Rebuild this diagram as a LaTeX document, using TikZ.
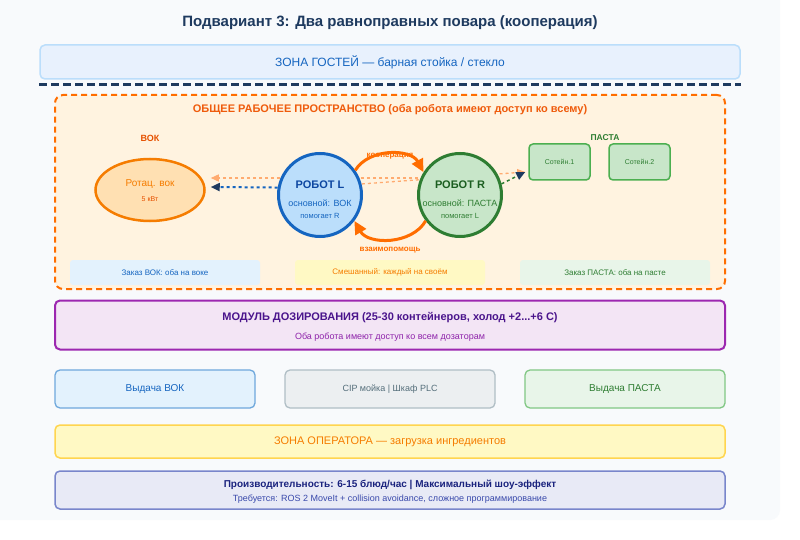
\documentclass[tikz,border=0pt]{standalone}
\usepackage{fontspec}
\setmainfont{Liberation Sans}
\usetikzlibrary{shapes.geometric,arrows.meta,calc}
\definecolor{cardbg}{HTML}{F8FAFC}
\definecolor{navy}{HTML}{1E3A5F}
\definecolor{guestbg}{HTML}{E8F1FD}
\definecolor{guestln}{HTML}{BBDEFB}
\definecolor{blueT}{HTML}{1565C0}
\definecolor{wsbg}{HTML}{FFF3E0}
\definecolor{wsln}{HTML}{FF6D00}
\definecolor{wsT}{HTML}{EF5B0C}
\definecolor{wokT}{HTML}{E65100}
\definecolor{wokfill}{HTML}{FFE0B2}
\definecolor{wokln}{HTML}{F57C00}
\definecolor{blueFill}{HTML}{BBDEFB}
\definecolor{blueLn}{HTML}{1565C0}
\definecolor{blueDk}{HTML}{0D47A1}
\definecolor{grnFill}{HTML}{C8E6C9}
\definecolor{grnLn}{HTML}{2E7D32}
\definecolor{grnDk}{HTML}{1B5E20}
\definecolor{sotln}{HTML}{4CAF50}
\definecolor{helpc}{HTML}{FFAB70}
\definecolor{arcc}{HTML}{FF6D00}
\definecolor{stripB}{HTML}{E3F2FD}
\definecolor{stripY}{HTML}{FFF9C4}
\definecolor{stripG}{HTML}{E8F5E9}
\definecolor{doseFill}{HTML}{F3E5F5}
\definecolor{doseLn}{HTML}{9C27B0}
\definecolor{doseDk}{HTML}{4A148C}
\definecolor{doseT}{HTML}{8E24AA}
\definecolor{outBln}{HTML}{6FA8DC}
\definecolor{cipFill}{HTML}{ECEFF1}
\definecolor{cipLn}{HTML}{B0BEC5}
\definecolor{cipT}{HTML}{546E7A}
\definecolor{outGln}{HTML}{81C784}
\definecolor{opLn}{HTML}{FFD54F}
\definecolor{opT}{HTML}{F57C00}
\definecolor{perfFill}{HTML}{E8EAF6}
\definecolor{perfLn}{HTML}{7986CB}
\definecolor{perfDk}{HTML}{1A237E}
\definecolor{perfT}{HTML}{3949AB}
\begin{document}
\begin{tikzpicture}[x=1pt,y=-1pt, every node/.style={inner sep=0pt,font=\fontsize{9}{11}\selectfont},
  zone/.style={draw,rounded corners=5pt,line width=1.5pt,minimum width=670pt},
  strip/.style={rounded corners=3pt,minimum width=190pt,minimum height=25pt,font=\fontsize{8}{9}\selectfont},
  robot/.style={circle,line width=3pt,minimum size=83pt},
  pan/.style={draw=sotln,fill=grnFill,rounded corners=4pt,line width=1.5pt,minimum width=61pt,minimum height=36pt,text=grnLn,font=\fontsize{7}{8}\selectfont},
  outbox/.style={draw,rounded corners=5pt,line width=1.3pt,minimum width=200pt,minimum height=38pt},
  helpar/.style={dashed,line width=1.3pt,helpc,-{Triangle[length=8pt,width=7pt]}},
  mainar/.style={dashed,line width=2pt,-{Triangle[length=9pt,width=8pt,color=navy]}},
  arc/.style={line width=3pt,arcc,-{Triangle[length=13pt,width=12pt]}}]
% page and card
\useasboundingbox (0,0) rectangle (800,540);
\fill[white] (0,0) rectangle (800,540);
\fill[cardbg,rounded corners=10pt] (-20,-20) rectangle (780,520);
\node[font=\fontsize{15}{18}\selectfont\bfseries,text=navy] (title) at (390,23) {Подвариант 3: Два равноправных повара (кооперация)};
% guests
\node[zone,draw=guestln,fill=guestbg,minimum width=700pt,minimum height=34pt,text=blueT,font=\fontsize{12}{14}\selectfont] (guest) at (390,62) {\raisebox{-1pt}{ЗОНА ГОСТЕЙ — барная стойка / стекло}};
\draw[navy,line width=2.5pt,dash pattern=on 8pt off 4pt] ([yshift=-5pt]guest.south west) -- ([yshift=-5pt]guest.south east);
% shared workspace
\node[draw=wsln,fill=wsbg,rounded corners=8pt,line width=2pt,dash pattern=on 6pt off 4pt,minimum width=670pt,minimum height=194pt] (ws) at (390,192) {};
\node[font=\fontsize{11}{13}\selectfont\bfseries,text=wsT] (wsTitle) at (390,110) {ОБЩЕЕ РАБОЧЕЕ ПРОСТРАНСТВО (оба робота имеют доступ ко всему)};
\node[font=\fontsize{9}{11}\selectfont\bfseries,text=wokT] (wokLbl) at (150,138) {ВОК};
\node[ellipse,draw=wokln,fill=wokfill,line width=2.5pt,minimum width=109pt,minimum height=62pt] (wok) at (150,190) {};
\node[font=\fontsize{10}{12}\selectfont,text=wokln] (wokT1) at (150,184) {Ротац. вок};
\node[font=\fontsize{7}{8}\selectfont,text=wokT] (wokT2) at (150,199) {5 кВт};
\node[font=\fontsize{8.5}{10}\selectfont\bfseries,text=grnLn] (pasLbl) at (605,138) {ПАСТА};
\node[pan] (sot1) at (559.5,162) {Сотейн.1};
\node[pan] (sot2) at (639.5,162) {Сотейн.2};
\node[strip,fill=stripB,text=blueT] (modeW) at (165,272.5) {Заказ ВОК: оба на воке};
\node[strip,fill=stripY,text=opT] (modeM) at (390,272.5) {Смешанный: каждый на своём};
\node[strip,fill=stripG,text=grnLn] (modeP) at (615,272.5) {Заказ ПАСТА: оба на пасте};
% robots and links
\coordinate (cL) at (320,195);
\coordinate (cR) at (460,195);
\coordinate (wokIn) at ([xshift=5pt,yshift=12pt]wok.east);
\coordinate (wokMain) at ([xshift=5pt,yshift=3pt]wok.east);
\coordinate (sotIn) at ([xshift=-3pt,yshift=-10pt]sot1.west);
\draw[helpar] ($(cR)+(0,-17)$) -- (wokIn);
\draw[helpar] ($(cL)+(0,-8)$) -- (sotIn);
\node[font=\fontsize{8}{9}\selectfont\bfseries,text=arcc] (coopLbl) at (390,156) {кооперация};
\node[font=\fontsize{8}{9}\selectfont\bfseries,text=arcc] (helpLbl) at (390,250) {взаимопомощь};
\node[robot,draw=blueLn,fill=blueFill] (robL) at (cL) {};
\node[robot,draw=grnLn,fill=grnFill] (robR) at (cR) {};
\node[font=\fontsize{11}{13}\selectfont\bfseries,text=blueDk] (robL1) at (320,185) {РОБОТ L};
\node[font=\fontsize{9}{11}\selectfont,text=blueT] (robL2) at (320,203) {основной: ВОК};
\node[font=\fontsize{7.5}{9}\selectfont,text=blueT] (robL3) at (320,216) {помогает R};
\node[font=\fontsize{11}{13}\selectfont\bfseries,text=grnDk] (robR1) at (460,185) {РОБОТ R};
\node[font=\fontsize{9}{11}\selectfont,text=grnLn] (robR2) at (460,203) {основной: ПАСТА};
\node[font=\fontsize{7.5}{9}\selectfont,text=grnLn] (robR3) at (460,216) {помогает L};
\draw[arc] (robL.35) to[bend left=60] (robR.148);
\draw[arc] (robR.217) to[bend left=60] (robL.323);
\draw[mainar,blueLn] (robL.170) -- (wokMain);
\draw[mainar,grnLn,line width=1.5pt] (robR.15) -- (sotIn);
% dosing
\node[zone,draw=doseLn,fill=doseFill,line width=2pt,minimum height=49pt] (dose) at (390,325) {};
\node[font=\fontsize{11}{13}\selectfont\bfseries,text=doseDk] (doseT1) at (390,317.5) {МОДУЛЬ ДОЗИРОВАНИЯ (25-30 контейнеров, холод +2...+6 С)};
\node[font=\fontsize{9}{11}\selectfont,text=doseT] (doseT2) at (390,337.5) {Оба робота имеют доступ ко всем дозаторам};
% outputs
\node[outbox,draw=outBln,fill=stripB,text=blueT,font=\fontsize{10}{12}\selectfont] (outW) at (155,389) {Выдача ВОК};
\node[outbox,draw=cipLn,fill=cipFill,text=cipT,minimum width=210pt,font=\fontsize{9}{11}\selectfont] (cip) at (390,389) {CIP мойка | Шкаф PLC};
\node[outbox,draw=outGln,fill=stripG,text=grnLn,font=\fontsize{10}{12}\selectfont] (outP) at (625,389) {Выдача ПАСТА};
% operator and summary
\node[zone,draw=opLn,fill=stripY,minimum height=33pt,text=opT,font=\fontsize{11}{13}\selectfont] (oper) at (390,441.5) {ЗОНА ОПЕРАТОРА — загрузка ингредиентов};
\node[zone,draw=perfLn,fill=perfFill,minimum height=38pt] (perf) at (390,490) {};
\node[font=\fontsize{10}{12}\selectfont\bfseries,text=perfDk] (perfT1) at (390,485) {Производительность: 6-15 блюд/час | Максимальный шоу-эффект};
\node[font=\fontsize{9}{11}\selectfont,text=perfT] (perfT2) at (390,499) {Требуется: ROS 2 MoveIt + collision avoidance, сложное программирование};
\end{tikzpicture}
\end{document}
